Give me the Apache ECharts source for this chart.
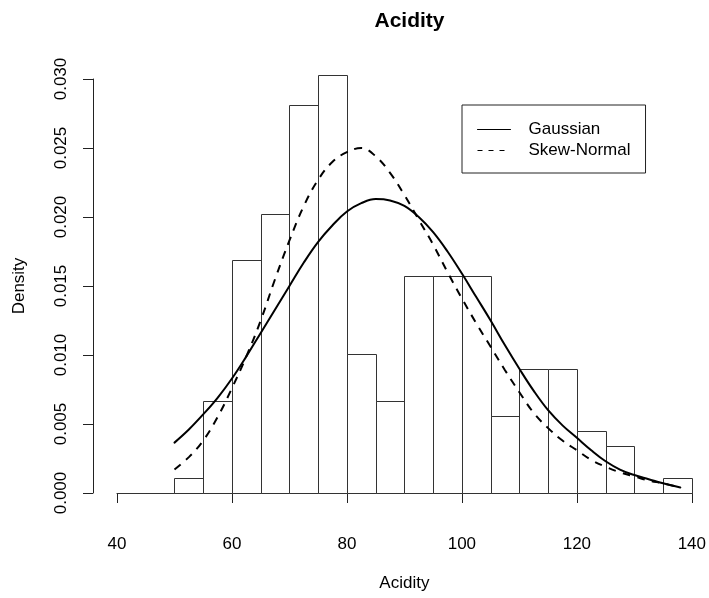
<!DOCTYPE html>
<html>
<head>
<meta charset="utf-8">
<script src="https://cdn.jsdelivr.net/npm/echarts@6/dist/echarts.min.js"></script>
<style>
html,body{margin:0;padding:0;background:#fff;}
#chart{width:709px;height:598px;}
</style>
</head>
<body>
<div id="chart"></div>
<script>
// Histogram bins (edges) and densities
const binEdges = [40,45,50,55,60,65,70,75,80,85,90,95,100,105,110,115,120,125,130,135,140];
const binDensity = [0,0,0.0011,0.0067,0.0169,0.0202,0.0281,0.0303,0.0101,0.0067,0.0157,0.0157,0.0157,0.0056,0.0090,0.0090,0.0045,0.0034,0,0.0011];

// Fitted density curves
const curveX = [50,52.5,55,57.5,60,62.5,65,67.5,70,72.5,75,77.5,80,82.5,85,87.5,90,92.5,95,97.5,100,102.5,105,107.5,110,112.5,115,117.5,120,122.5,125,127.5,130,132.5,135,138];
const gaussianY = [0.00365,0.0046,0.0057,0.0069,0.0083,0.0099,0.0116,0.0133,0.0150,0.0167,0.0182,0.0194,0.0204,0.0210,0.0213,0.0212,0.0208,0.0200,0.0189,0.0175,0.0159,0.0142,0.0125,0.0107,0.0090,0.0074,0.0060,0.0049,0.0040,0.0031,0.0023,0.0017,0.0013,0.0010,0.0007,0.0004];
const skewNormalY = [0.0017,0.0026,0.0038,0.0055,0.0076,0.0099,0.0125,0.0155,0.0183,0.0208,0.0227,0.0240,0.0247,0.0250,0.0244,0.0232,0.0216,0.0198,0.0180,0.0160,0.0141,0.0123,0.0106,0.0089,0.0073,0.0058,0.0047,0.0038,0.0031,0.0024,0.0019,0.0015,0.0012,0.0009,0.0007,0.0004];

const xTicks = [40,60,80,100,120,140];
const yTicks = [0,0.005,0.010,0.015,0.020,0.025,0.030];

const histData = binDensity.map((d,i)=>[binEdges[i], binEdges[i+1], d]);
const gaussData = curveX.map((x,i)=>[x, gaussianY[i]]);
const skewData = curveX.map((x,i)=>[x, skewNormalY[i]]);

const FONT = "'Liberation Sans', Arial, Helvetica, sans-serif";
const chart = echarts.init(document.getElementById('chart'), null, {renderer:'canvas'});
chart.setOption({
  animation:false,
  backgroundColor:'#fff',
  textStyle:{fontFamily:FONT, color:'#000'},
  title:{
    text:'Acidity', left:404.5, top:6, textAlign:'center',
    textStyle:{fontFamily:FONT, fontSize:21, fontWeight:'bold', color:'#000'}
  },
  grid:{left:117, right:17, top:79, bottom:105, containLabel:false},
  xAxis:{
    type:'value', min:xTicks[0], max:xTicks[xTicks.length-1], interval:20, offset:18,
    axisLine:{show:true, lineStyle:{color:'#222', width:1}},
    axisTick:{show:true, length:10, lineStyle:{color:'#222'}},
    axisLabel:{margin:25, fontSize:17, color:'#000', fontFamily:FONT},
    splitLine:{show:false},
    name:'Acidity', nameLocation:'middle', nameGap:64,
    nameTextStyle:{fontSize:17, color:'#000', fontFamily:FONT}
  },
  yAxis:{
    type:'value', min:yTicks[0], max:yTicks[yTicks.length-1], interval:0.005, offset:24,
    axisLine:{show:true, lineStyle:{color:'#222', width:1}},
    axisTick:{show:true, length:10, lineStyle:{color:'#222'}},
    axisLabel:{margin:23, rotate:90, fontSize:17, color:'#000', fontFamily:FONT,
      formatter:v=>v.toFixed(3)},
    splitLine:{show:false},
    name:'Density', nameLocation:'middle', nameRotate:90, nameGap:65,
    nameTextStyle:{fontSize:17, color:'#000', fontFamily:FONT}
  },
  legend:{
    orient:'vertical', left:462, top:105,
    padding:[16,15,14,15], itemGap:4, itemWidth:33, itemHeight:14,
    borderColor:'#222', borderWidth:1, borderRadius:0,
    itemStyle:{opacity:0},
    textStyle:{fontSize:17, color:'#000', fontFamily:FONT, padding:[0,0,0,13]},
    data:[
      {name:'Gaussian', itemStyle:{opacity:0}, lineStyle:{width:1, type:'solid', color:'#000', opacity:1}},
      {name:'Skew-Normal', itemStyle:{opacity:0}, lineStyle:{width:1, type:[5,6], color:'#000', opacity:1}}
    ]
  },
  series:[
    {
      name:'hist', type:'custom', clip:false, silent:true,
      data:histData,
      renderItem:function(params, api){
        const p0 = api.coord([api.value(0), api.value(2)]);
        const p1 = api.coord([api.value(1), 0]);
        return {
          type:'rect',
          shape:{x:Math.round(p0[0])+0.5, y:Math.round(p0[1])+0.5, width:Math.round(p1[0])-Math.round(p0[0]), height:Math.round(p1[1])-Math.round(p0[1])},
          style:{fill:'#fff', stroke:'#333', lineWidth:1}
        };
      },
      z:1
    },
    {
      name:'Gaussian', type:'line', data:gaussData, smooth:0.4, symbol:'none',
      lineStyle:{color:'#000', width:2, type:'solid', cap:'round'}, itemStyle:{color:'#000'}, z:3
    },
    {
      name:'Skew-Normal', type:'line', data:skewData, smooth:0.4, symbol:'none',
      lineStyle:{color:'#000', width:2, type:[8,7], cap:'butt'}, itemStyle:{color:'#000'}, z:3
    }
  ]
});
</script>
</body>
</html>
